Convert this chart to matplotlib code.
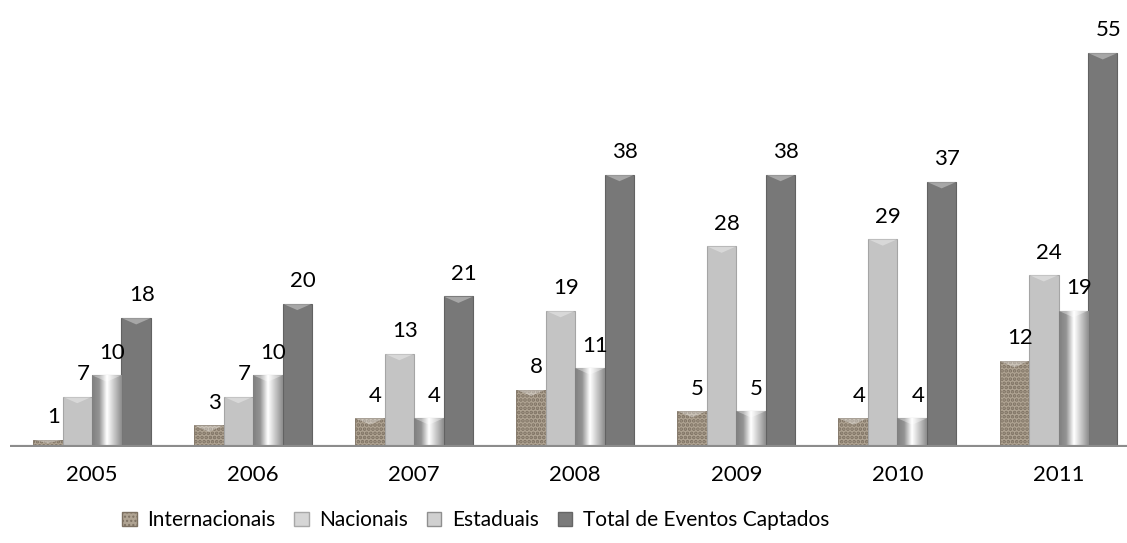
import matplotlib.pyplot as plt
from matplotlib.patches import Patch
import numpy as np

plt.rcParams['font.family'] = ['Lato', 'DejaVu Sans']

# values
years = ['2005', '2006', '2007', '2008', '2009', '2010', '2011']
internacionais = [1, 3, 4, 8, 5, 4, 12]
nacionais = [7, 7, 13, 19, 28, 29, 24]
estaduais = [10, 10, 4, 11, 5, 4, 19]
total = [18, 20, 21, 38, 38, 37, 55]

series = [
    ('Internacionais', internacionais),
    ('Nacionais', nacionais),
    ('Estaduais', estaduais),
    ('Total de Eventos Captados', total),
]

fig = plt.figure(figsize=(11.27, 5.43), dpi=100)
ax = fig.add_axes([10 / 1127, 0.177, 1117 / 1127, 0.823])

x = np.arange(len(years))
w = 0.183
offsets = [-1.5 * w, -0.5 * w, 0.5 * w, 1.5 * w]

# gradient used for the cylinder-like "Estaduais" bars
grad = np.concatenate([np.linspace(0.5, 0.58, 25), np.linspace(0.6, 1.0, 25),
                       np.linspace(1.0, 0.55, 50)])
grad = np.tile(grad, (2, 1))

handles = []
for i, (name, vals) in enumerate(series):
    xs = x + offsets[i]
    if i == 0:
        bars = ax.bar(xs, vals, w, color='#b0a493', edgecolor='#7d7162',
                      hatch='....', linewidth=0.6, zorder=2)
        for b in bars:
            b.set_hatch_linewidth(1.8)
        handles.append(Patch(facecolor='#b0a493', edgecolor='#7d7162', hatch='....'))
    elif i == 1:
        bars = ax.bar(xs, vals, w, color='#c4c4c4', edgecolor='#a5a5a5',
                      linewidth=0.8, zorder=2)
        handles.append(Patch(facecolor='#d6d6d6', edgecolor='#a8a8a8'))
    elif i == 2:
        bars = ax.bar(xs, vals, w, color='#c0c0c0', edgecolor='#8f8f8f',
                      linewidth=0.8, zorder=2)
        for b in bars:
            x0, y0 = b.get_x(), b.get_y()
            im = ax.imshow(grad, cmap='gray', vmin=0, vmax=1, aspect='auto',
                           extent=[x0, x0 + b.get_width(), y0, y0 + b.get_height()],
                           zorder=3)
            im.set_clip_path(b)
        handles.append(Patch(facecolor='#d0d0d0', edgecolor='#8f8f8f'))
    else:
        bars = ax.bar(xs, vals, w, color='#787878', edgecolor='#626262',
                      linewidth=0.8, zorder=2)
        handles.append(Patch(facecolor='#7b7b7b', edgecolor='#666666'))
    # bevelled top
    for b in bars:
        h = b.get_height()
        bx, bw = b.get_x(), b.get_width()
        d = min(0.9, h * 0.5)
        ax.fill([bx, bx + bw, bx + bw * 0.5], [h, h, h - d],
                color='white', alpha=0.35, lw=0, zorder=4)
    for xi, v in zip(xs, vals):
        ax.annotate(str(v), (xi, v), xytext=(4, 9), textcoords='offset points',
                    ha='center', va='bottom', fontsize=16, color='black')

ax.set_xlim(-0.509, 6.425)
ax.set_ylim(0, 62.4)
ax.axhline(0, color='#8c8c8c', linewidth=3, zorder=5)

ax.set_xticks(x)
ax.set_xticklabels(years, fontsize=16)
ax.tick_params(axis='x', length=0, pad=13)
ax.set_yticks([])
for s in ax.spines.values():
    s.set_visible(False)

fig.legend(handles, [s[0] for s in series], loc='center',
           bbox_to_anchor=(0.422, 0.042), ncol=4, frameon=False, fontsize=15,
           handlelength=0.7, handleheight=0.7, handletextpad=0.5,
           columnspacing=0.9)

fig.savefig('out.png', dpi=100)
